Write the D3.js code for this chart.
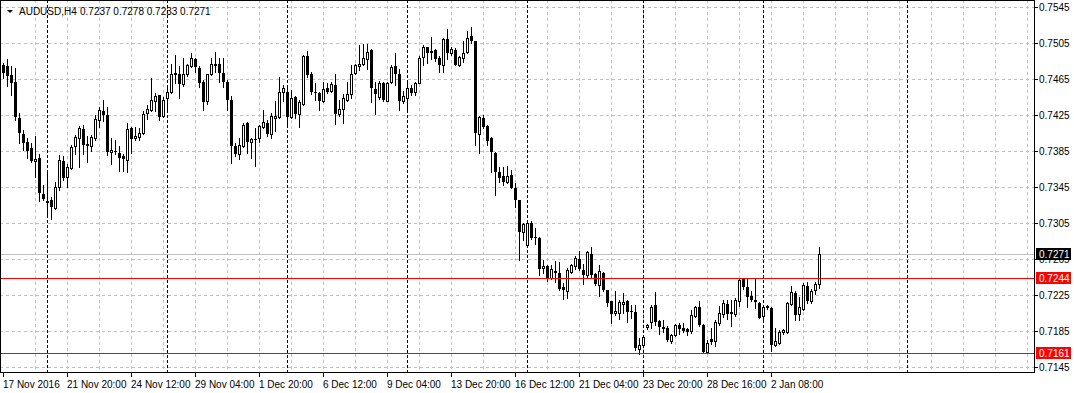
<!DOCTYPE html>
<html>
<head>
<meta charset="utf-8">
<script src="https://cdn.jsdelivr.net/npm/d3@7"></script>
<style>
  html, body { margin: 0; padding: 0; background: #fff; }
  svg { display: block; }
  text { font-family: "Liberation Sans", Arial, sans-serif; font-size: 10px; fill: #000; }
</style>
</head>
<body>
<svg width="1074" height="393"></svg>
<script>
// AUDUSD H4 bars
const open = [
  0.7480, 0.7479, 0.7469, 0.7462, 0.7422, 0.7404, 0.7395, 0.7388, 0.7374, 0.7377,
  0.7337, 0.7329, 0.7331, 0.7322, 0.7345, 0.7374, 0.7356, 0.7366, 0.7390, 0.7399,
  0.7409, 0.7392, 0.7391, 0.7399, 0.7419, 0.7429, 0.7425, 0.7384, 0.7385, 0.7383,
  0.7379, 0.7375, 0.7410, 0.7399, 0.7400, 0.7405, 0.7427, 0.7431, 0.7441, 0.7447,
  0.7424, 0.7444, 0.7451, 0.7470, 0.7471, 0.7459, 0.7470, 0.7479, 0.7487, 0.7477,
  0.7462, 0.7440, 0.7470, 0.7480, 0.7482, 0.7472, 0.7462, 0.7442, 0.7391, 0.7382,
  0.7391, 0.7416, 0.7395, 0.7398, 0.7399, 0.7412, 0.7416, 0.7404, 0.7422, 0.7423,
  0.7451, 0.7450, 0.7423, 0.7445, 0.7426, 0.7437, 0.7491, 0.7470, 0.7451, 0.7449,
  0.7441, 0.7455, 0.7452, 0.7458, 0.7426, 0.7432, 0.7442, 0.7448, 0.7472, 0.7479,
  0.7482, 0.7487, 0.7497, 0.7454, 0.7445, 0.7461, 0.7441, 0.7462, 0.7479, 0.7470,
  0.7441, 0.7444, 0.7455, 0.7450, 0.7461, 0.7489, 0.7500, 0.7496, 0.7497, 0.7488,
  0.7481, 0.7509, 0.7494, 0.7497, 0.7480, 0.7488, 0.7495, 0.7513, 0.7507, 0.7404,
  0.7422, 0.7413, 0.7399, 0.7383, 0.7362, 0.7357, 0.7351, 0.7358, 0.7344, 0.7331,
  0.7295, 0.7281, 0.7305, 0.7289, 0.7288, 0.7255, 0.7257, 0.7244, 0.7252, 0.7249,
  0.7234, 0.7230, 0.7251, 0.7257, 0.7265, 0.7253, 0.7247, 0.7271, 0.7248, 0.7236,
  0.7250, 0.7231, 0.7218, 0.7205, 0.7205, 0.7215, 0.7218, 0.7207, 0.7206, 0.7165,
  0.7169, 0.7189, 0.7195, 0.7214, 0.7196, 0.7189, 0.7188, 0.7174, 0.7181, 0.7192,
  0.7188, 0.7187, 0.7185, 0.7202, 0.7212, 0.7192, 0.7162, 0.7176, 0.7174, 0.7194,
  0.7204, 0.7215, 0.7206, 0.7204, 0.7218, 0.7243, 0.7234, 0.7224, 0.7219, 0.7216,
  0.7202, 0.7213, 0.7211, 0.7170, 0.7172, 0.7184, 0.7184, 0.7215, 0.7227, 0.7204,
  0.7210, 0.7235, 0.7218, 0.7231, 0.7237
];
const high = [
  0.7483, 0.7487, 0.7479, 0.7477, 0.7427, 0.7408, 0.7399, 0.7394, 0.7402, 0.7382,
  0.7347, 0.7361, 0.7334, 0.7351, 0.7381, 0.7379, 0.7371, 0.7392, 0.7403, 0.7413,
  0.7414, 0.7402, 0.7403, 0.7425, 0.7434, 0.7442, 0.7434, 0.7399, 0.7397, 0.7390,
  0.7382, 0.7416, 0.7412, 0.7412, 0.7410, 0.7429, 0.7436, 0.7466, 0.7449, 0.7447,
  0.7445, 0.7456, 0.7482, 0.7492, 0.7479, 0.7488, 0.7482, 0.7494, 0.7488, 0.7479,
  0.7464, 0.7471, 0.7488, 0.7495, 0.7488, 0.7488, 0.7464, 0.7446, 0.7394, 0.7399,
  0.7416, 0.7417, 0.7399, 0.7411, 0.7414, 0.7431, 0.7419, 0.7427, 0.7440, 0.7467,
  0.7458, 0.7458, 0.7453, 0.7446, 0.7442, 0.7492, 0.7496, 0.7473, 0.7461, 0.7451,
  0.7462, 0.7460, 0.7462, 0.7471, 0.7442, 0.7448, 0.7462, 0.7481, 0.7482, 0.7503,
  0.7504, 0.7504, 0.7498, 0.7462, 0.7463, 0.7462, 0.7462, 0.7481, 0.7494, 0.7476,
  0.7452, 0.7462, 0.7458, 0.7462, 0.7490, 0.7503, 0.7501, 0.7512, 0.7498, 0.7491,
  0.7510, 0.7521, 0.7500, 0.7499, 0.7491, 0.7507, 0.7518, 0.7523, 0.7507, 0.7424,
  0.7425, 0.7414, 0.7400, 0.7384, 0.7367, 0.7367, 0.7368, 0.7364, 0.7349, 0.7331,
  0.7305, 0.7306, 0.7307, 0.7300, 0.7290, 0.7264, 0.7258, 0.7258, 0.7263, 0.7262,
  0.7238, 0.7255, 0.7260, 0.7268, 0.7274, 0.7259, 0.7274, 0.7278, 0.7249, 0.7258,
  0.7251, 0.7231, 0.7218, 0.7229, 0.7219, 0.7227, 0.7219, 0.7214, 0.7214, 0.7177,
  0.7179, 0.7193, 0.7214, 0.7228, 0.7197, 0.7197, 0.7191, 0.7182, 0.7193, 0.7194,
  0.7194, 0.7188, 0.7208, 0.7213, 0.7218, 0.7193, 0.7175, 0.7188, 0.7197, 0.7213,
  0.7219, 0.7220, 0.7220, 0.7222, 0.7244, 0.7244, 0.7244, 0.7229, 0.7244, 0.7217,
  0.7213, 0.7214, 0.7212, 0.7188, 0.7186, 0.7187, 0.7217, 0.7235, 0.7229, 0.7223,
  0.7238, 0.7240, 0.7232, 0.7240, 0.7278
];
const low = [
  0.7466, 0.7457, 0.7447, 0.7419, 0.7394, 0.7386, 0.7377, 0.7373, 0.7356, 0.7329,
  0.7331, 0.7315, 0.7310, 0.7321, 0.7342, 0.7353, 0.7345, 0.7365, 0.7382, 0.7367,
  0.7382, 0.7373, 0.7385, 0.7397, 0.7412, 0.7418, 0.7381, 0.7371, 0.7382, 0.7363,
  0.7363, 0.7362, 0.7383, 0.7397, 0.7397, 0.7404, 0.7420, 0.7429, 0.7429, 0.7419,
  0.7423, 0.7428, 0.7449, 0.7460, 0.7444, 0.7457, 0.7468, 0.7478, 0.7473, 0.7456,
  0.7431, 0.7437, 0.7469, 0.7473, 0.7462, 0.7456, 0.7431, 0.7372, 0.7379, 0.7376,
  0.7389, 0.7383, 0.7377, 0.7368, 0.7395, 0.7410, 0.7402, 0.7399, 0.7407, 0.7422,
  0.7441, 0.7413, 0.7422, 0.7422, 0.7412, 0.7436, 0.7467, 0.7448, 0.7442, 0.7430,
  0.7439, 0.7449, 0.7450, 0.7415, 0.7424, 0.7416, 0.7440, 0.7444, 0.7470, 0.7475,
  0.7481, 0.7476, 0.7439, 0.7426, 0.7443, 0.7441, 0.7440, 0.7460, 0.7458, 0.7431,
  0.7438, 0.7428, 0.7447, 0.7447, 0.7460, 0.7480, 0.7483, 0.7487, 0.7485, 0.7473,
  0.7473, 0.7487, 0.7492, 0.7480, 0.7479, 0.7484, 0.7494, 0.7505, 0.7392, 0.7383,
  0.7411, 0.7392, 0.7362, 0.7336, 0.7350, 0.7347, 0.7349, 0.7344, 0.7323, 0.7264,
  0.7286, 0.7280, 0.7287, 0.7282, 0.7247, 0.7249, 0.7241, 0.7243, 0.7240, 0.7231,
  0.7221, 0.7222, 0.7249, 0.7254, 0.7253, 0.7237, 0.7245, 0.7245, 0.7236, 0.7224,
  0.7229, 0.7213, 0.7194, 0.7203, 0.7198, 0.7205, 0.7195, 0.7200, 0.7164, 0.7159,
  0.7167, 0.7187, 0.7188, 0.7192, 0.7182, 0.7184, 0.7174, 0.7172, 0.7179, 0.7182,
  0.7184, 0.7181, 0.7183, 0.7201, 0.7191, 0.7161, 0.7161, 0.7171, 0.7168, 0.7192,
  0.7201, 0.7198, 0.7191, 0.7202, 0.7213, 0.7232, 0.7212, 0.7218, 0.7211, 0.7199,
  0.7196, 0.7210, 0.7163, 0.7168, 0.7171, 0.7182, 0.7183, 0.7214, 0.7197, 0.7197,
  0.7208, 0.7216, 0.7216, 0.7226, 0.7233
];
const close = [
  0.7472, 0.7468, 0.7460, 0.7423, 0.7405, 0.7394, 0.7385, 0.7374, 0.7376, 0.7338,
  0.7332, 0.7330, 0.7323, 0.7345, 0.7375, 0.7355, 0.7367, 0.7389, 0.7400, 0.7411,
  0.7392, 0.7393, 0.7400, 0.7421, 0.7431, 0.7425, 0.7384, 0.7386, 0.7384, 0.7377,
  0.7376, 0.7409, 0.7398, 0.7402, 0.7405, 0.7426, 0.7432, 0.7442, 0.7446, 0.7423,
  0.7442, 0.7450, 0.7471, 0.7472, 0.7459, 0.7471, 0.7481, 0.7488, 0.7478, 0.7460,
  0.7439, 0.7470, 0.7482, 0.7482, 0.7472, 0.7462, 0.7442, 0.7391, 0.7382, 0.7392,
  0.7414, 0.7395, 0.7398, 0.7397, 0.7413, 0.7417, 0.7404, 0.7424, 0.7424, 0.7450,
  0.7455, 0.7423, 0.7444, 0.7426, 0.7439, 0.7491, 0.7469, 0.7451, 0.7450, 0.7441,
  0.7454, 0.7450, 0.7459, 0.7426, 0.7432, 0.7444, 0.7448, 0.7471, 0.7481, 0.7482,
  0.7488, 0.7495, 0.7455, 0.7448, 0.7461, 0.7442, 0.7461, 0.7478, 0.7470, 0.7441,
  0.7446, 0.7455, 0.7449, 0.7461, 0.7488, 0.7500, 0.7494, 0.7494, 0.7487, 0.7480,
  0.7509, 0.7494, 0.7498, 0.7481, 0.7489, 0.7494, 0.7511, 0.7507, 0.7405, 0.7423,
  0.7412, 0.7396, 0.7384, 0.7362, 0.7355, 0.7350, 0.7357, 0.7344, 0.7331, 0.7295,
  0.7304, 0.7305, 0.7288, 0.7288, 0.7254, 0.7257, 0.7244, 0.7254, 0.7249, 0.7232,
  0.7231, 0.7253, 0.7258, 0.7266, 0.7254, 0.7247, 0.7273, 0.7247, 0.7237, 0.7252,
  0.7231, 0.7216, 0.7204, 0.7207, 0.7217, 0.7217, 0.7206, 0.7206, 0.7166, 0.7169,
  0.7178, 0.7192, 0.7212, 0.7195, 0.7189, 0.7187, 0.7175, 0.7181, 0.7192, 0.7187,
  0.7185, 0.7184, 0.7203, 0.7212, 0.7192, 0.7162, 0.7172, 0.7173, 0.7195, 0.7205,
  0.7216, 0.7204, 0.7204, 0.7220, 0.7242, 0.7234, 0.7223, 0.7219, 0.7217, 0.7200,
  0.7212, 0.7211, 0.7169, 0.7174, 0.7184, 0.7186, 0.7216, 0.7228, 0.7203, 0.7212,
  0.7236, 0.7218, 0.7230, 0.7237, 0.7271
];

const priceTicks = [0.7545, 0.7505, 0.7465, 0.7425, 0.7385, 0.7345, 0.7305, 0.7265, 0.7225, 0.7185, 0.7145];
const timeLabels = ['17 Nov 2016', '21 Nov 20:00', '24 Nov 12:00', '29 Nov 04:00', '1 Dec 20:00', '6 Dec 12:00',
  '9 Dec 04:00', '13 Dec 20:00', '16 Dec 12:00', '21 Dec 04:00', '23 Dec 20:00', '28 Dec 16:00', '2 Jan 08:00'];
const timeLabelBars = [0, 16, 32, 48, 64, 80, 96, 112, 128, 144, 160, 176, 192];
const weekSeparators = [11, 41, 71, 101, 131, 160, 190, 226];
const levelLines = [0.7244, 0.7161];
const symbol = 'AUDUSD,H4';

const svg = d3.select('svg');
const plotRight = 1034, plotBottom = 372;

const x = d3.scaleLinear().domain([0, 256]).range([3, 1027]);
const y = d3.scaleLinear().domain([0.7145, 0.7545]).range([367, 7]);
const px = v => Math.round(v) + 0.5;
const fmt = d3.format('.4f');

const bars = open.map((o, i) => ({ i, o, h: high[i], l: low[i], c: close[i] }));
const last = bars[bars.length - 1];

svg.append('clipPath').attr('id', 'plot')
  .append('rect').attr('x', 1).attr('y', 1).attr('width', plotRight - 1).attr('height', plotBottom - 1);

const plot = svg.append('g').attr('clip-path', 'url(#plot)');

// grid
plot.append('g').selectAll('line')
  .data(priceTicks)
  .enter().append('line')
  .attr('x1', 0).attr('x2', plotRight)
  .attr('y1', d => px(y(d))).attr('y2', d => px(y(d)))
  .attr('stroke', '#c0c0c0').attr('stroke-dasharray', '3,3');

plot.append('g').selectAll('line')
  .data(d3.range(8, 257, 8))
  .enter().append('line')
  .attr('x1', d => px(x(d))).attr('x2', d => px(x(d)))
  .attr('y1', 0).attr('y2', plotBottom)
  .attr('stroke', '#c0c0c0').attr('stroke-dasharray', '3,3');

// period separators
plot.append('g').selectAll('line')
  .data(weekSeparators)
  .enter().append('line')
  .attr('x1', d => px(x(d))).attr('x2', d => px(x(d)))
  .attr('y1', 0).attr('y2', plotBottom)
  .attr('stroke', '#000').attr('stroke-dasharray', '3,2');

// bid line
plot.append('line')
  .attr('x1', 0).attr('x2', plotRight)
  .attr('y1', px(y(last.c))).attr('y2', px(y(last.c)))
  .attr('stroke', '#c0c0c0');

// candles
const candle = plot.append('g').selectAll('g')
  .data(bars)
  .enter().append('g');

candle.append('line')
  .attr('x1', d => px(x(d.i))).attr('x2', d => px(x(d.i)))
  .attr('y1', d => Math.round(y(d.h))).attr('y2', d => Math.round(y(d.l)) + 1)
  .attr('stroke', '#000');

candle.append('rect')
  .attr('x', d => Math.round(x(d.i)) - 1 + (d.c >= d.o ? 0.5 : 0))
  .attr('y', d => Math.round(y(Math.max(d.o, d.c))) + (d.c >= d.o ? 0.5 : 0))
  .attr('width', d => d.c >= d.o ? 2 : 3)
  .attr('height', d => {
    const hgt = Math.round(y(Math.min(d.o, d.c))) - Math.round(y(Math.max(d.o, d.c)));
    return d.c >= d.o ? Math.max(hgt, 1) : Math.max(hgt, 1);
  })
  .attr('fill', d => d.c >= d.o ? '#fff' : '#000')
  .attr('stroke', d => d.c >= d.o ? '#000' : 'none');

// horizontal levels
plot.append('g').selectAll('line')
  .data(levelLines)
  .enter().append('line')
  .attr('x1', 0).attr('x2', plotRight)
  .attr('y1', d => px(y(d))).attr('y2', d => px(y(d)))
  .attr('stroke', '#ff0000');

// frame
svg.append('rect')
  .attr('x', 0.5).attr('y', 0.5)
  .attr('width', plotRight).attr('height', plotBottom)
  .attr('fill', 'none').attr('stroke', '#000');

// price axis
const yAxis = svg.append('g');
yAxis.selectAll('line')
  .data(priceTicks)
  .enter().append('line')
  .attr('x1', plotRight).attr('x2', plotRight + 4)
  .attr('y1', d => px(y(d))).attr('y2', d => px(y(d)))
  .attr('stroke', '#000');
yAxis.selectAll('text')
  .data(priceTicks)
  .enter().append('text')
  .attr('x', 1039).attr('y', d => Math.round(y(d)) + 4)
  .text(d => fmt(d));

// price tags (levels red, bid black)
const tags = levelLines.map(p => ({ p, color: '#ff0000' })).concat([{ p: last.c, color: '#000' }]);
const tag = svg.append('g').selectAll('g')
  .data(tags)
  .enter().append('g');
tag.append('rect')
  .attr('x', 1036).attr('y', d => Math.round(y(d.p)) - 6)
  .attr('width', 35).attr('height', 12)
  .attr('fill', d => d.color);
tag.append('text')
  .attr('x', 1039).attr('y', d => Math.round(y(d.p)) + 4)
  .style('fill', '#fff')
  .text(d => fmt(d.p));

// time axis
const xAxis = svg.append('g');
xAxis.selectAll('line')
  .data(timeLabelBars)
  .enter().append('line')
  .attr('x1', d => px(x(d))).attr('x2', d => px(x(d)))
  .attr('y1', plotBottom).attr('y2', plotBottom + 5)
  .attr('stroke', '#000');
xAxis.selectAll('text')
  .data(timeLabelBars)
  .enter().append('text')
  .attr('x', d => Math.round(x(d)))
  .attr('y', 388)
  .text((d, k) => timeLabels[k]);

// header
svg.append('path')
  .attr('d', 'M7,10 L13,10 L10,13 Z')
  .attr('fill', '#000');
svg.append('text')
  .attr('x', 19).attr('y', 15)
  .text(symbol);
svg.append('text')
  .attr('x', 80).attr('y', 15)
  .text([last.o, last.h, last.l, last.c].map(fmt).join(' '));
</script>
</body>
</html>
